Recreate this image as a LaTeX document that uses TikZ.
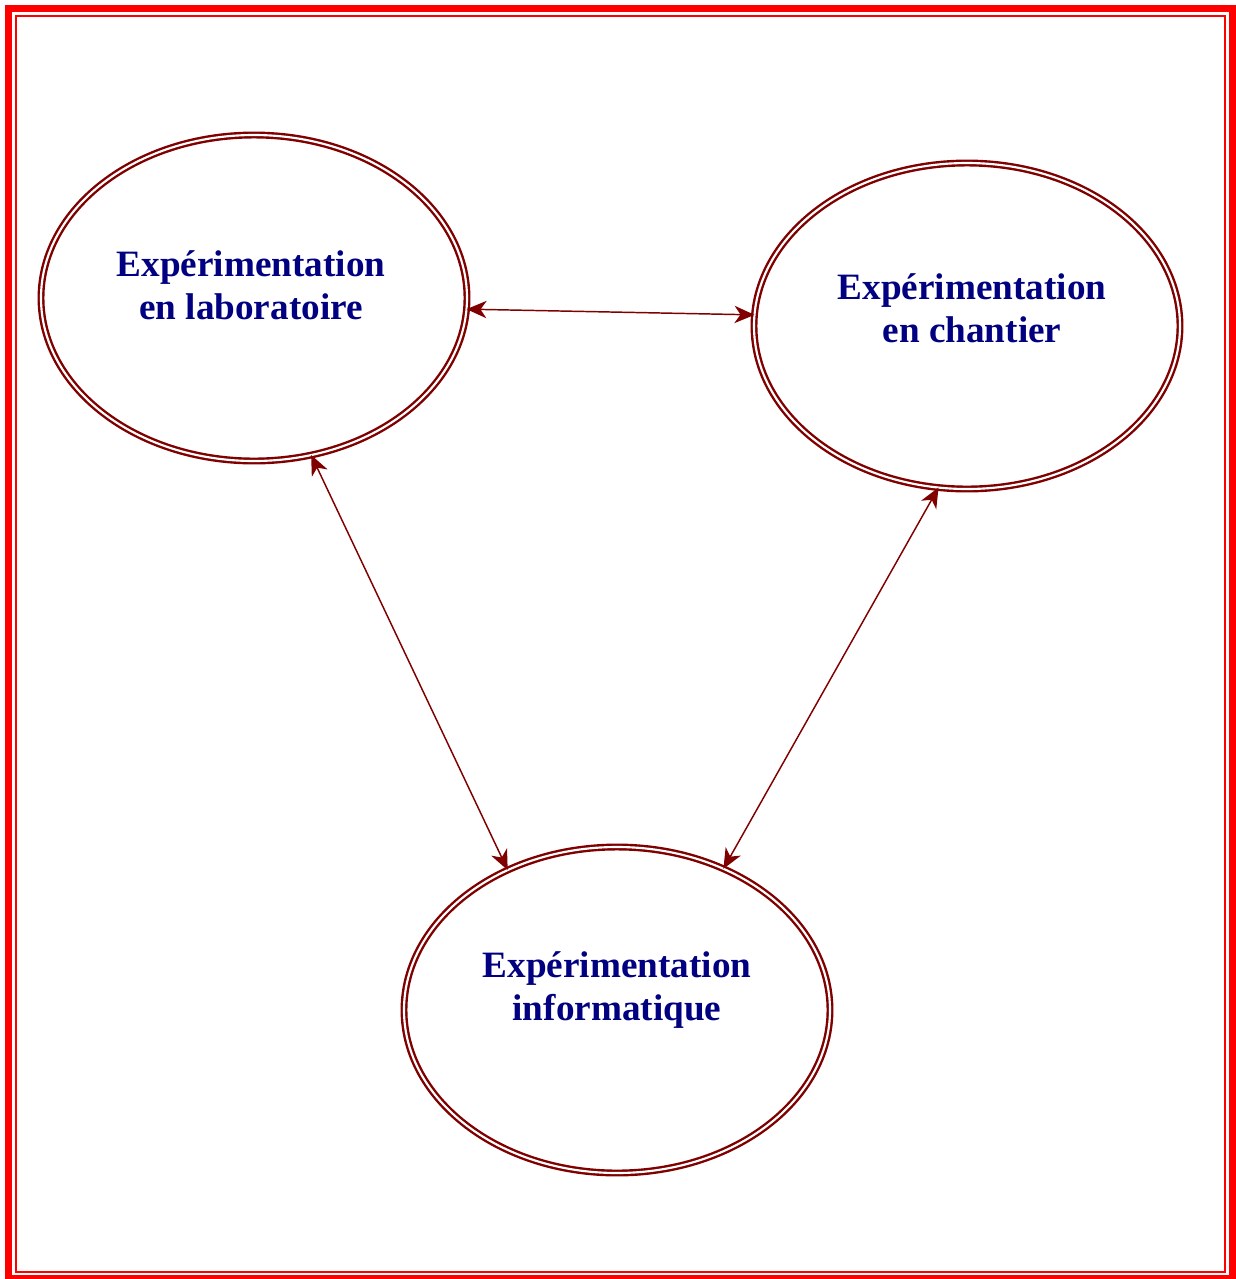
\documentclass[tikz,border=0pt]{standalone}
\usepackage{fontspec}
\setmainfont{Liberation Serif}
\usetikzlibrary{shapes.geometric,arrows.meta}
\definecolor{navy}{HTML}{000080}
\definecolor{maroon}{HTML}{800000}
\tikzset{
  px/.style={x=0.75pt,y=-0.75pt},
  ell/.style={ellipse,draw=maroon,double=white,line width=1.8pt,double distance=1.6pt,
    minimum width=319.5pt,minimum height=244.5pt,inner sep=0pt,outer sep=0pt},
  lbl/.style={text=navy,font=\bfseries\fontsize{27.9}{32.3}\selectfont,align=center},
  link/.style={draw=maroon,line width=1.1pt,{Stealth[length=15pt,width=13pt,inset=4.5pt]}-{Stealth[length=15pt,width=13pt,inset=4.5pt]}}
}
\begin{document}
\begin{tikzpicture}[px]
\useasboundingbox (0,0) rectangle (1236,1279);
\draw[red,line width=5.25pt] (8.5,8.5) rectangle (1232.5,1278.5);
\draw[red,line width=1.6pt] (16,16) rectangle (1225,1272);
\node[ell] (L) at (254,298) {};
\node[ell] (R) at (967,326) {};
\node[ell] (B) at (617,1010) {};
\node[lbl] (Lt) at (251,285) {Expérimentation\\en laboratoire};
\node[lbl] (Rt) at (972,308) {Expérimentation\\en chantier};
\node[lbl] (Bt) at (617,990) {Expérimentation\\informatique};
\draw[link] (L.-3.15) -- (R.177.1);
\draw[link] (L.-70.3) -- (B.128.3);
\draw[link] (R.-100.1) -- (B.53.7);
\end{tikzpicture}
\end{document}
